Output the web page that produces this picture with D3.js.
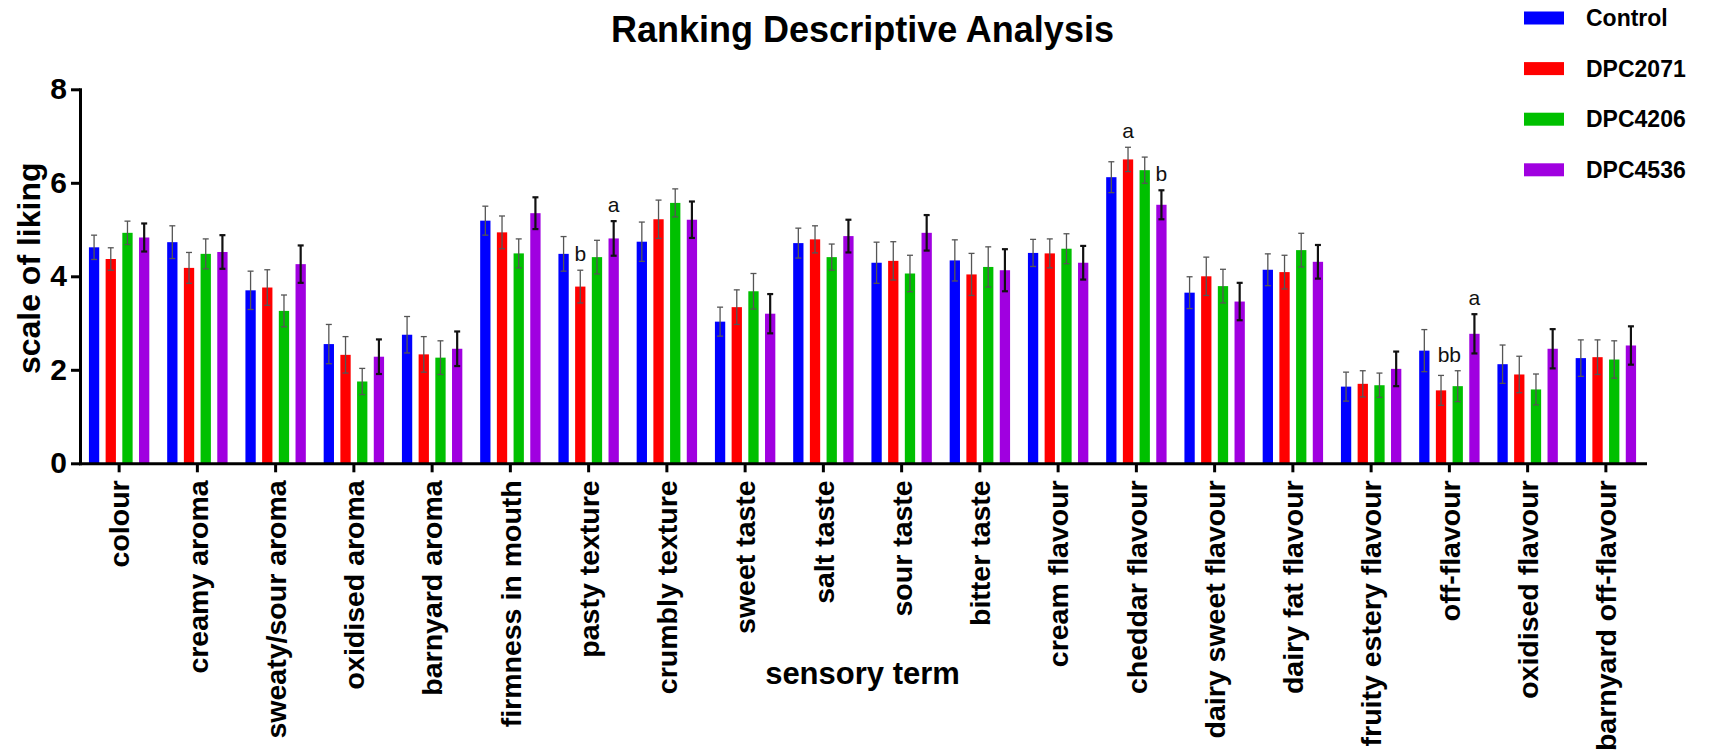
<!DOCTYPE html>
<html>
<head>
<meta charset="utf-8">
<script src="https://cdn.jsdelivr.net/npm/d3@7"></script>
<style>
  html, body { margin: 0; padding: 0; background: #fff; }
  svg { display: block; font-family: "Liberation Sans", Arial, sans-serif; }
</style>
</head>
<body>
<svg id="chart" width="1711" height="750"></svg>
<script>
// Sensory terms on the x axis
const terms = [
  "colour", "creamy aroma", "sweaty/sour aroma", "oxidised aroma", "barnyard aroma",
  "firmness in mouth", "pasty texture", "crumbly texture", "sweet taste", "salt taste",
  "sour taste", "bitter taste", "cream flavour", "cheddar flavour", "dairy sweet flavour",
  "dairy fat flavour", "fruity estery flavour", "off-flavour", "oxidised flavour", "barnyard off-flavour"
];

const seriesNames = ["Control", "DPC2071", "DPC4206", "DPC4536"];

// Mean scores and standard errors per cheese
const controlMean = [4.62, 4.73, 3.70, 2.55, 2.75, 5.19, 4.48, 4.74, 3.03, 4.71, 4.29, 4.34, 4.50, 6.12, 3.65, 4.14, 1.64, 2.41, 2.12, 2.25];
const controlSem  = [0.26, 0.35, 0.41, 0.42, 0.39, 0.31, 0.37, 0.42, 0.31, 0.32, 0.44, 0.44, 0.29, 0.33, 0.34, 0.34, 0.31, 0.45, 0.41, 0.39];

const dpc2071Mean = [4.37, 4.18, 3.76, 2.32, 2.33, 4.94, 3.78, 5.22, 3.34, 4.79, 4.33, 4.04, 4.49, 6.50, 4.00, 4.09, 1.70, 1.56, 1.90, 2.27];
const dpc2071Sem  = [0.24, 0.33, 0.38, 0.39, 0.38, 0.35, 0.35, 0.41, 0.37, 0.29, 0.41, 0.45, 0.31, 0.26, 0.41, 0.36, 0.28, 0.32, 0.39, 0.37];

const dpc4206Mean = [4.93, 4.48, 3.26, 1.75, 2.26, 4.49, 4.41, 5.57, 3.68, 4.41, 4.06, 4.20, 4.59, 6.27, 3.79, 4.56, 1.67, 1.65, 1.58, 2.22];
const dpc4206Sem  = [0.25, 0.32, 0.34, 0.28, 0.36, 0.31, 0.36, 0.30, 0.38, 0.28, 0.39, 0.43, 0.32, 0.28, 0.36, 0.36, 0.26, 0.33, 0.33, 0.40];

const dpc4536Mean = [4.83, 4.52, 4.26, 2.28, 2.45, 5.35, 4.81, 5.21, 3.20, 4.86, 4.93, 4.13, 4.29, 5.53, 3.46, 4.31, 2.02, 2.77, 2.45, 2.52];
const dpc4536Sem  = [0.30, 0.36, 0.40, 0.37, 0.37, 0.34, 0.37, 0.39, 0.42, 0.35, 0.38, 0.45, 0.36, 0.31, 0.40, 0.36, 0.37, 0.42, 0.42, 0.41];

const yTicks = [0, 2, 4, 6, 8];

// Significance letters
const letterTerms  = ["pasty texture", "pasty texture", "cheddar flavour", "cheddar flavour", "off-flavour", "off-flavour", "off-flavour"];
const letterSeries = ["DPC2071", "DPC4536", "DPC2071", "DPC4536", "DPC2071", "DPC4206", "DPC4536"];
const letterText   = ["b", "a", "a", "b", "b", "b", "a"];

// ---- drawing ----
const colours = { Control: "#0000ff", DPC2071: "#ff0000", DPC4206: "#00c000", DPC4536: "#a000e0" };
const whisker = {
  Control: { stroke: "#555", width: 1.3 },
  DPC2071: { stroke: "#555", width: 1.3 },
  DPC4206: { stroke: "#555", width: 1.3 },
  DPC4536: { stroke: "#111", width: 2.2 }
};

const means = [controlMean, dpc2071Mean, dpc4206Mean, dpc4536Mean];
const sems  = [controlSem, dpc2071Sem, dpc4206Sem, dpc4536Sem];

const rows = [];
terms.forEach((t, i) => {
  seriesNames.forEach((s, j) => {
    rows.push({ term: t, series: s, mean: means[j][i], sem: sems[j][i] });
  });
});

const plotLeft = 80, plotRight = 1645, plotTop = 89.3, plotBottom = 463.3;

const svg = d3.select("#chart");

const x0 = d3.scaleBand().domain(terms).range([plotLeft, plotRight]).paddingInner(0).paddingOuter(0);
const groupWidth = 60.4;
const x1 = d3.scaleBand().domain(seriesNames).range([0, groupWidth]).paddingInner(0.383).paddingOuter(0);
const y = d3.scaleLinear().domain([0, 8]).range([plotBottom, plotTop]);

const barX = d => x0(d.term) + (x0.bandwidth() - groupWidth) / 2 + x1(d.series);
const barCx = d => barX(d) + x1.bandwidth() / 2;

// bars
svg.append("g")
  .selectAll("rect")
  .data(rows)
  .join("rect")
  .attr("x", barX)
  .attr("y", d => y(d.mean))
  .attr("width", x1.bandwidth())
  .attr("height", d => y(0) - y(d.mean))
  .attr("fill", d => colours[d.series]);

// error bars
const eb = svg.append("g").selectAll("g").data(rows).join("g")
  .attr("stroke", d => whisker[d.series].stroke)
  .attr("stroke-width", d => whisker[d.series].width);
eb.append("line")
  .attr("x1", barCx).attr("x2", barCx)
  .attr("y1", d => y(d.mean - d.sem)).attr("y2", d => y(d.mean + d.sem));
eb.append("line")
  .attr("x1", d => barCx(d) - 3).attr("x2", d => barCx(d) + 3)
  .attr("y1", d => y(d.mean + d.sem)).attr("y2", d => y(d.mean + d.sem));
eb.append("line")
  .attr("x1", d => barCx(d) - 3).attr("x2", d => barCx(d) + 3)
  .attr("y1", d => y(d.mean - d.sem)).attr("y2", d => y(d.mean - d.sem));

// significance letters: identical letters within one group are set as a single run
const rowOf = (t, s) => rows.find(r => r.term === t && r.series === s);
const letterGroups = d3.groups(
  letterTerms.map((t, k) => ({ term: t, row: rowOf(t, letterSeries[k]), text: letterText[k] })),
  d => d.term + "|" + d.text
).map(([, items]) => ({
  text: items.map(d => d.text).join(""),
  cx: d3.mean(items, d => barCx(d.row)),
  peak: d3.max(items, d => d.row.mean + d.row.sem)
}));
svg.append("g").selectAll("text").data(letterGroups).join("text")
  .attr("x", d => d.cx)
  .attr("y", d => y(d.peak) - 9)
  .attr("text-anchor", "middle")
  .attr("font-size", 21)
  .attr("fill", "#111")
  .text(d => d.text);

// axes
const yAxis = svg.append("g")
  .attr("transform", `translate(${plotLeft},0)`)
  .call(d3.axisLeft(y).tickValues(yTicks).tickFormat(d3.format("d")).tickSize(9).tickSizeOuter(0).tickPadding(4));
const xAxis = svg.append("g")
  .attr("transform", `translate(0,${plotBottom})`)
  .call(d3.axisBottom(x0).tickSize(9).tickSizeOuter(0));

[yAxis, xAxis].forEach(a => {
  a.select(".domain").attr("stroke", "#000").attr("stroke-width", 3).attr("stroke-linecap", "square");
  a.selectAll(".tick line").attr("stroke", "#000").attr("stroke-width", 3);
});
yAxis.selectAll("text")
  .attr("font-size", 30).attr("font-weight", "bold").attr("fill", "#000");
xAxis.selectAll("text")
  .attr("transform", "rotate(-90)")
  .attr("text-anchor", "end")
  .attr("x", -17).attr("y", 0).attr("dy", "0.36em")
  .attr("font-size", 28.5).attr("font-weight", "bold").attr("fill", "#000");

// titles
svg.append("text")
  .attr("x", (plotLeft + plotRight) / 2).attr("y", 42)
  .attr("text-anchor", "middle").attr("font-size", 36).attr("font-weight", "bold")
  .text("Ranking Descriptive Analysis");

svg.append("text")
  .attr("transform", "rotate(-90)")
  .attr("x", -((plotTop + plotBottom) / 2 - 8)).attr("y", 40)
  .attr("text-anchor", "middle").attr("font-size", 32).attr("font-weight", "bold")
  .text("scale of liking");

svg.append("text")
  .attr("x", (plotLeft + plotRight) / 2).attr("y", 684)
  .attr("text-anchor", "middle").attr("font-size", 31).attr("font-weight", "bold")
  .text("sensory term");

// legend
const legend = svg.append("g").attr("transform", "translate(1524,0)")
  .selectAll("g").data(seriesNames).join("g")
  .attr("transform", (d, i) => `translate(0,${18 + i * 50.6})`);
legend.append("rect")
  .attr("x", 0).attr("y", -6.5).attr("width", 40).attr("height", 13)
  .attr("fill", d => colours[d]);
legend.append("text")
  .attr("x", 62).attr("y", 0).attr("dy", "0.36em")
  .attr("font-size", 23).attr("font-weight", "bold")
  .text(d => d);
</script>
</body>
</html>
